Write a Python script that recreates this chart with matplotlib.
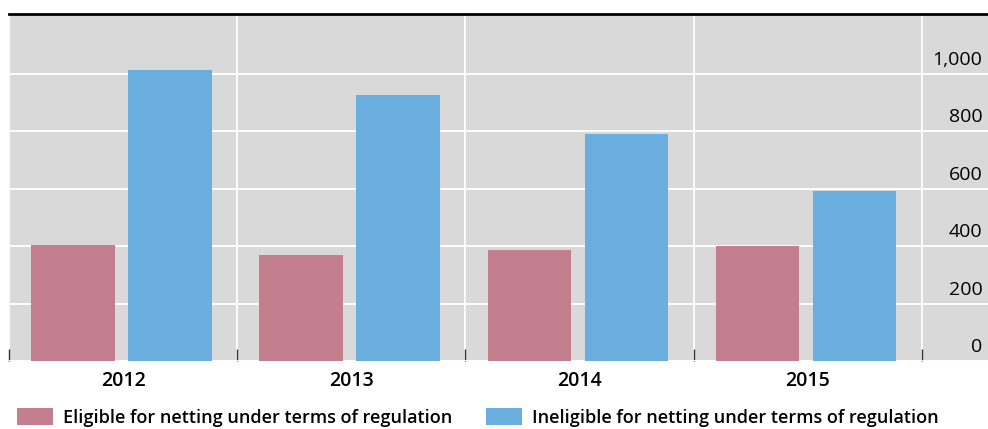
import matplotlib.pyplot as plt
import matplotlib.transforms as mtransforms
import numpy as np
from matplotlib.ticker import FuncFormatter

years = ['2012', '2013', '2014', '2015']
eligible = [405, 368, 385, 400]
ineligible = [1012, 925, 790, 592]
series_names = ['Eligible for netting under terms of regulation',
                'Ineligible for netting under terms of regulation']
y_ticks = [0, 200, 400, 600, 800, 1000]

plt.rcParams['font.family'] = ['Open Sans', 'DejaVu Sans']

fig = plt.figure(figsize=(9.88, 4.29), dpi=100)
ax = fig.add_axes([9 / 988, 68 / 429, 979 / 988, 347 / 429])
ax.set_facecolor('#d9d9d9')

x = np.arange(len(years))
w = 0.365
ax.bar(x - 0.22, eligible, w, color='#c47f8f', label=series_names[0], zorder=3)
ax.bar(x + 0.205, ineligible, w, color='#6aaee0', label=series_names[1], zorder=3)

ax.set_xlim(-0.5, 3.79)
ax.set_ylim(0, 1207)

# x axis: year labels at centers, small ticks + white grid at boundaries
ax.set_xticks(x)
ax.set_xticklabels(years, fontsize=14, fontweight='semibold')
ax.tick_params(axis='x', which='major', length=0, pad=7)
ax.set_xticks(np.arange(-0.5, 4, 1), minor=True)
ax.tick_params(axis='x', which='minor', direction='in', length=9, width=1, color='#333333')
ax.grid(axis='x', which='minor', color='white', linewidth=1.3, zorder=1)

# y axis on the right, labels sitting above gridlines
ax.yaxis.tick_right()
ax.set_yticks(y_ticks)
ax.yaxis.set_major_formatter(FuncFormatter(lambda v, p: f'{int(v):,}'))
ax.tick_params(axis='y', length=0, pad=-4, labelsize=14)
offset = mtransforms.ScaledTranslation(0, 5 / 100, fig.dpi_scale_trans)
for lab in ax.get_yticklabels():
    lab.set_horizontalalignment('right')
    lab.set_verticalalignment('bottom')
    lab.set_transform(lab.get_transform() + offset)
ax.grid(axis='y', which='major', color='white', linewidth=1.3, zorder=1)

for s in ['left', 'right', 'bottom']:
    ax.spines[s].set_visible(False)
ax.spines['top'].set_color('black')
ax.spines['top'].set_linewidth(2)

fig.legend(loc='lower left', bbox_to_anchor=(4 / 988, -0.024), ncol=2, frameon=False,
           prop={'size': 13, 'weight': 'semibold'}, handlelength=2.0, handleheight=1.0,
           handletextpad=0.55, columnspacing=1.9, borderaxespad=0.3)

fig.savefig('out.png', dpi=100)
